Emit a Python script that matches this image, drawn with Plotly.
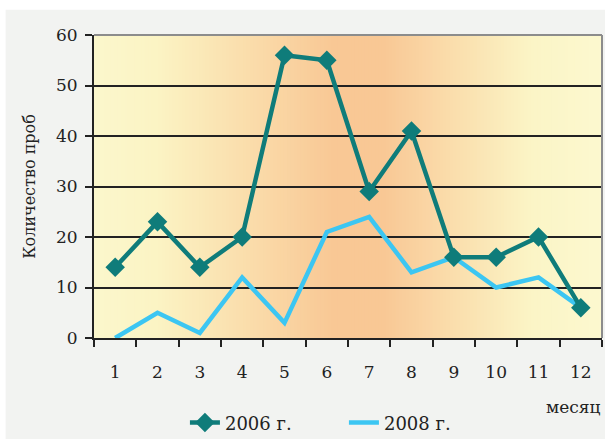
import plotly.graph_objects as go

# Monthly sample counts
months = list(range(1, 13))
month_labels = [str(m) for m in months]
samples_2006 = [14, 23, 14, 20, 56, 55, 29, 41, 16, 16, 20, 6]
samples_2008 = [0, 5, 1, 12, 3, 21, 24, 13, 16, 10, 12, 6]
y_ticks = [0, 10, 20, 30, 40, 50, 60]

SERIF = "DejaVu Serif"
TEAL = "#0f7c7a"
SKY = "#3cc6f2"

fig = go.Figure()
fig.add_trace(go.Scatter(
    x=months, y=samples_2008, name="2008 г.", mode="lines",
    line=dict(color=SKY, width=4.5),
))
fig.add_trace(go.Scatter(
    x=months, y=samples_2006, name="2006 г.", mode="lines+markers",
    line=dict(color=TEAL, width=4.5),
    marker=dict(symbol="diamond", size=15, color=TEAL),
))


def hex_rgb(h):
    h = h.lstrip("#")
    return tuple(int(h[i:i + 2], 16) for i in (0, 2, 4))


# Horizontal yellow-orange-yellow gradient behind the plot
stops = [(0.0, "#fbf7cc"), (0.12, "#fbf4c4"), (0.47, "#f9c895"),
         (0.57, "#f9c895"), (0.86, "#fbf5c6"), (1.0, "#fcf8cf")]


def grad(t):
    for (a, ca), (b, cb) in zip(stops, stops[1:]):
        if a <= t <= b:
            f = (t - a) / (b - a) if b > a else 0
            ra, rb = hex_rgb(ca), hex_rgb(cb)
            return "rgb(%d,%d,%d)" % tuple(round(x + (y - x) * f) for x, y in zip(ra, rb))
    return stops[-1][1]


shapes = []
n = 150
for i in range(n):
    x0 = i / n
    x1 = (i + 1) / n
    shapes.append(dict(type="rect", xref="paper", yref="paper", x0=x0, x1=x1 + 0.002,
                       y0=0, y1=1, fillcolor=grad((x0 + x1) / 2), line=dict(width=0),
                       layer="below"))
# white margin strips at the top and left edge of the canvas
shapes.append(dict(type="rect", xref="paper", yref="paper", x0=-0.3, x1=1.1,
                   y0=1.083, y1=1.2, fillcolor="white", line=dict(width=0), layer="below"))
shapes.append(dict(type="rect", xref="paper", yref="paper", x0=-0.3, x1=-0.174,
                   y0=-0.5, y1=1.2, fillcolor="white", line=dict(width=0), layer="below"))
# grey frame on top and right
shapes.append(dict(type="line", xref="paper", yref="paper", x0=0, x1=1, y0=1, y1=1,
                   line=dict(color="#8c8c8c", width=2)))
shapes.append(dict(type="line", xref="paper", yref="paper", x0=1, x1=1, y0=0, y1=1,
                   line=dict(color="#8c8c8c", width=2)))

fig.update_layout(
    width=605, height=439,
    margin=dict(l=94, r=3, t=35, b=101, autoexpand=False),
    paper_bgcolor="#f2f3f1",
    plot_bgcolor="rgba(0,0,0,0)",
    font=dict(family=SERIF, size=17, color="#222"),
    shapes=shapes,
    showlegend=True,
    legend=dict(orientation="h", x=0.179, xanchor="left", y=-0.28, yanchor="middle",
                traceorder="reversed", font=dict(family=SERIF, size=18),
                bgcolor="rgba(0,0,0,0)", entrywidth=114, entrywidthmode="pixels"),
    annotations=[dict(text="месяц", xref="paper", yref="paper", x=0.943, y=-0.228,
                      xanchor="center", yanchor="middle", showarrow=False,
                      font=dict(family=SERIF, size=17))],
)

fig.update_xaxes(
    range=[0.5, 12.5], tickvals=months, ticktext=month_labels, ticks="",
    showgrid=False, zeroline=False, showline=True, linecolor="#222", linewidth=2,
    ticklabelstandoff=18, tickfont=dict(family=SERIF, size=17),
    minor=dict(tickvals=[m + 0.5 for m in range(0, 13)], ticks="outside",
               ticklen=7, tickwidth=2, tickcolor="#222", showgrid=False),
)
fig.update_yaxes(
    range=[0, 60], tickvals=y_ticks, ticks="outside", ticklen=7, tickwidth=2,
    tickcolor="#222", showgrid=True, gridcolor="#222", gridwidth=1.5,
    zeroline=False, showline=True, linecolor="#222", linewidth=2,
    tickfont=dict(family=SERIF, size=17),
    title=dict(text="Количество проб", font=dict(family=SERIF, size=16), standoff=16),
    ticklabelstandoff=4,
)

fig.write_html("out.html")
